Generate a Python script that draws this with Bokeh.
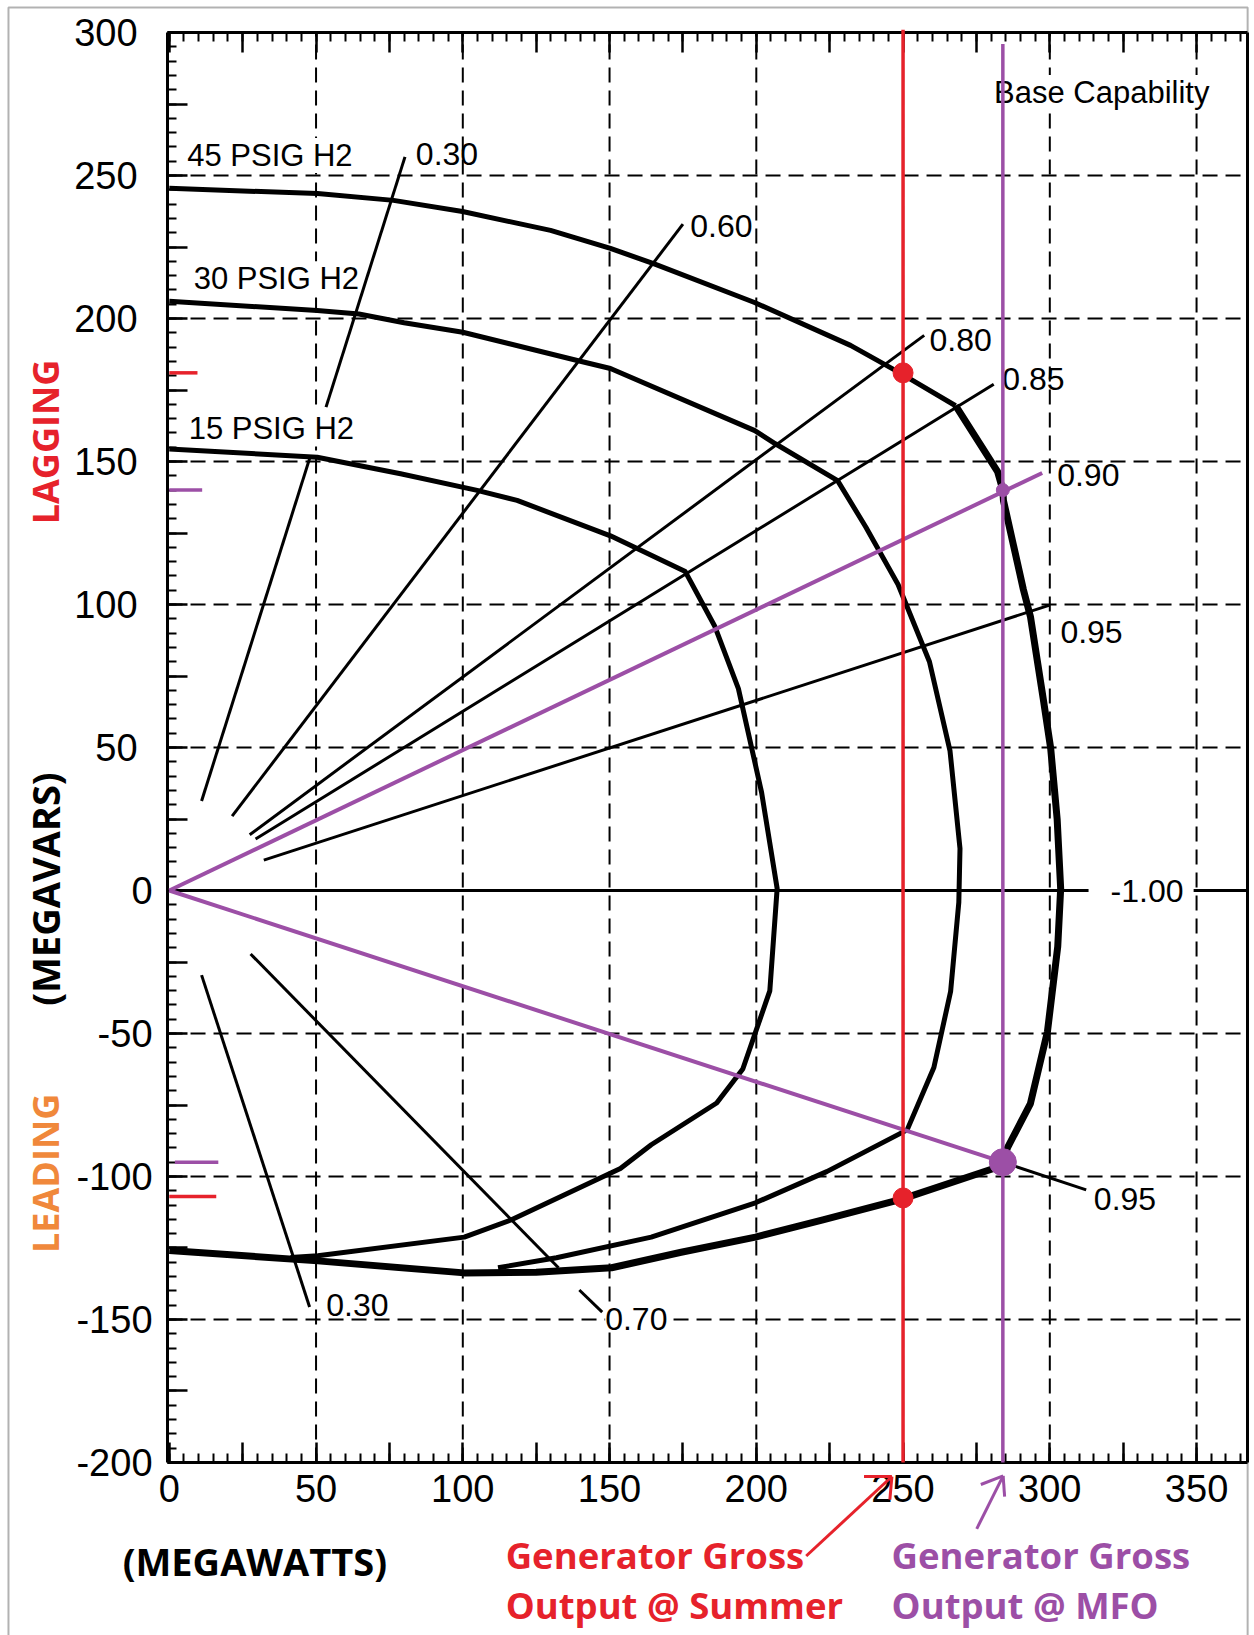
import math
from bokeh.plotting import figure
from bokeh.models import (Range1d, FixedTicker, LinearAxis, Label, LabelSet, Arrow,
                          ColumnDataSource, BoxAnnotation)
from bokeh.core.properties import value
from bokeh.embed import file_html
from bokeh.resources import INLINE

# ---------------- data (MW, MVAR) ----------------
cap45_top_mw   = [0, 50.5, 76.4, 99.9, 129.9, 150.3, 165.0, 199.4, 232.1, 249.2, 267.9]
cap45_top_mvar = [245.5, 243.7, 241.3, 237.4, 230.8, 224.5, 219.2, 205.6, 190.6, 180.8, 169.5]
cap45_side_mw   = [267.9, 282.2, 284.0, 284.2, 291.0, 293.4, 297.9, 300.3, 302.5, 303.7, 302.7, 299.2, 293.4, 285.6, 284.0]
cap45_side_mvar = [169.5, 146.5, 140.0, 136.4, 105.2, 95.8, 66.1, 49.7, 25.0, 0.7, -19.6, -49.3, -74.5, -89.9, -95.0]
base_bottom_mw   = [284.0, 280.6, 249.3, 222.7, 199.7, 174.4, 150.7, 125.0, 100.5, 50.6, 0]
base_bottom_mvar = [-95.0, -97.3, -108.0, -115.2, -121.2, -126.5, -131.9, -133.5, -133.7, -129.5, -125.9]

cap30_mw   = [0, 50.4, 64.6, 80.0, 100.0, 139.0, 150.3, 199.5, 206.5, 227.7, 237.3, 248.3, 259.0, 266.0,
              269.4, 269.0, 266.2, 260.5, 251.4, 224.0, 199.7, 164.2, 131.9, 112.0]
cap30_mvar = [206.0, 202.8, 201.6, 198.5, 195.2, 185.3, 182.5, 160.8, 156.2, 143.3, 127.1, 107.0, 80.0, 48.8,
              14.7, -4.1, -35.3, -61.9, -83.7, -98.3, -109.2, -121.2, -128.4, -131.9]

cap15_mw   = [0, 50.4, 78.8, 104.9, 118.5, 150.3, 175.8, 185.8, 193.9, 201.8, 207.1, 204.6, 195.4, 186.5,
              164.2, 153.7, 116.4, 100.5, 50.6, 41.3]
cap15_mvar = [154.4, 151.5, 145.7, 139.9, 136.4, 124.0, 111.5, 92.5, 70.6, 34.3, 0.7, -35.1, -62.4, -74.3,
              -88.9, -97.2, -115.2, -121.2, -127.7, -128.3]

# power-factor lines (segment ends)
pf_x0 = [11.0, 53.4, 21.4, 27.4, 29.4, 32.2, 11.0, 27.7, 139.7, 284.0, 0.0, 349.0]
pf_y0 = [31.3, 169.0, 26.0, 19.5, 18.0, 10.6, -29.6, -22.2, -139.7, -95.0, 0.0, 0.0]
pf_x1 = [47.8, 80.3, 175.0, 257.2, 280.9, 299.7, 47.8, 132.6, 147.5, 312.4, 313.2, 367.4]
pf_y1 = [151.0, 256.5, 233.0, 194.1, 177.0, 99.7, -145.6, -131.9, -147.4, -104.7, 0.0, 0.0]

# power-factor labels
pf_lbl_txt = ["0.30", "0.60", "0.80", "0.85", "0.90", "0.95", "-1.00", "0.95", "0.30"]
pf_lbl_x   = [84.0, 177.5, 259.0, 283.8, 302.5, 303.6, 320.7, 315.0, 53.5]
pf_lbl_y   = [257.6, 232.5, 192.5, 178.7, 145.4, 90.3, 0.0, -107.8, -145.0]

# labels that sit on a grid line (drawn on a white box)
box_lbl_txt = ["45 PSIG H2", "30 PSIG H2", "15 PSIG H2", "Base Capability", "0.70"]
box_lbl_x   = [6.1, 8.3, 6.6, 281.0, 148.5]
box_lbl_y   = [257.0, 213.9, 161.4, 279.0, -149.9]
box_lbl_sz  = ["31px", "31px", "31px", "31px", "32px"]

# operating points
summer_mw = 250.0
summer_mvar = [181.0, -107.5]
mfo_mw = 284.0
mfo_mvar = [140.0, -95.0]
mfo_pf_lag_end = [297.4, 146.0]

# coloured marks on the MVAR axis
red_tick_y = [181.0, -107.0]
red_tick_len = [9.6, 16.0]
pur_tick_y = [140.0, -95.0]
pur_tick_x0 = [0.0, 1.9]
pur_tick_len = [11.2, 16.7]

# arrows under the axis
red_arrow_x0 = [217.0, 246.2, 246.2]
red_arrow_y0 = [-232.7, -204.9, -204.9]
red_arrow_x1 = [246.2, 236.7, 245.5]
red_arrow_y1 = [-204.9, -204.9, -213.0]
pur_arrow_x0 = [275.1, 284.1, 284.1]
pur_arrow_y0 = [-223.2, -204.7, -204.7]
pur_arrow_x1 = [284.1, 276.5, 284.6]
pur_arrow_y1 = [-204.7, -207.7, -211.9]

# ticks and grid
x_lbl_ticks = list(range(0, 351, 50))
x_mid_ticks = list(range(25, 351, 50))
x_minor = list(range(0, 366, 5))
y_lbl_ticks_neg = list(range(-200, 1, 50))
y_lbl_ticks_pos = list(range(50, 301, 50))
y_mid_ticks = list(range(-175, 301, 50))
y_minor = list(range(-200, 301, 5))
x_grid = [50, 100, 150, 200, 250, 300, 350]
y_grid = [-150, -100, -50, 50, 100, 150, 200, 250]

# chart frame (MW / MVAR) and the visible page around it
XL, XR = -0.6, 367.4
YB, YT = -200, 300
VIEW_X = (-57.51, 369.74)
VIEW_Y = (-260.49, 311.19)
PAGE_BOX = dict(left=-54.79, right=367.4, top=308.74, bottom=-275)

RED = "#e6222b"
PUR = "#9c4fa6"
ORG = "#f0883b"
SANS = "Liberation Sans"
BOLD = "Open Sans"

p = figure(width=1254, height=1635, x_range=Range1d(*VIEW_X), y_range=Range1d(*VIEW_Y),
           output_backend="svg", toolbar_location=None,
           min_border=0, min_border_left=0, min_border_right=0, min_border_top=0, min_border_bottom=0,
           background_fill_color="white", border_fill_color="white")
p.outline_line_color = None
p.grid.visible = False


def set_axis(ax, loc, bounds, ticks, minor, tick_len, minor_len, labels=None, standoff=0, line=True):
    ax.fixed_location = loc
    ax.bounds = bounds
    ax.ticker = FixedTicker(ticks=ticks, minor_ticks=minor)
    ax.axis_line_width = 3
    ax.axis_line_color = "black" if line else None
    ax.major_tick_in = tick_len
    ax.major_tick_out = 0
    ax.minor_tick_in = minor_len
    ax.minor_tick_out = 0
    ax.major_tick_line_width = 2.5
    ax.minor_tick_line_width = 2
    ax.major_tick_line_color = "black"
    ax.minor_tick_line_color = "black"
    if labels:
        ax.major_label_overrides = labels
        ax.major_label_text_font = SANS
        ax.major_label_text_font_size = "38px"
        ax.major_label_text_color = "black"
        ax.major_label_standoff = standoff
    else:
        ax.major_label_text_color = None
        ax.major_label_standoff = 0


set_axis(p.xaxis[0], YB, (XL, XR), x_lbl_ticks, x_minor, 20, 9,
         labels={v: str(v) for v in x_lbl_ticks}, standoff=13)
set_axis(p.yaxis[0], XL, (YB, YT), y_lbl_ticks_neg, y_minor, 20, 9,
         labels={v: str(v) for v in y_lbl_ticks_neg}, standoff=15)

pos_axis = LinearAxis()
set_axis(pos_axis, XL, (YB, YT), y_lbl_ticks_pos, [], 20, 0,
         labels={v: str(v) for v in y_lbl_ticks_pos}, standoff=30, line=False)
p.add_layout(pos_axis, "left")

extra = [("above", YT, (XL, XR), x_lbl_ticks, x_minor, 20, 9, True),
         ("below", YB, (XL, XR), x_mid_ticks, [], 20, 0, False),
         ("above", YT, (XL, XR), x_mid_ticks, [], 20, 0, False),
         ("left", XL, (YB, YT), y_mid_ticks, [], 20, 0, False),
         ("right", XR, (YB, YT), [], [], 0, 0, True)]
for side, loc, bnd, tks, mnr, tl, ml, line in extra:
    ax = LinearAxis()
    set_axis(ax, loc, bnd, tks, mnr, tl, ml, labels=None, line=line)
    p.add_layout(ax, side)

# dashed grid inside the chart frame
p.segment(x_grid, [YB] * len(x_grid), x_grid, [YT] * len(x_grid),
          line_color="black", line_width=2, line_dash="15 8")
p.segment([XL] * len(y_grid), y_grid, [XR] * len(y_grid), y_grid,
          line_color="black", line_width=2, line_dash="15 8")

# capability curves
p.line(cap15_mw, cap15_mvar, line_color="black", line_width=5, line_join="round")
p.line(cap30_mw, cap30_mvar, line_color="black", line_width=5, line_join="round")
p.line(cap45_top_mw, cap45_top_mvar, line_color="black", line_width=5, line_join="round")
p.line(cap45_side_mw, cap45_side_mvar, line_color="black", line_width=7, line_join="round")
p.line(base_bottom_mw, base_bottom_mvar, line_color="black", line_width=7, line_join="round")

# power-factor lines
p.segment(pf_x0, pf_y0, pf_x1, pf_y1, line_color="black", line_width=3)

# labels in the chart
p.add_layout(LabelSet(x="x", y="y", text="t",
                      source=ColumnDataSource(dict(x=pf_lbl_x, y=pf_lbl_y, t=pf_lbl_txt)),
                      text_font=value(SANS), text_font_size=value("32px"), text_color="black",
                      text_align="left", text_baseline="middle"))
p.add_layout(LabelSet(x="x", y="y", text="t", text_font_size="s",
                      source=ColumnDataSource(dict(x=box_lbl_x, y=box_lbl_y, t=box_lbl_txt, s=box_lbl_sz)),
                      text_font=value(SANS), text_color="black",
                      text_align="left", text_baseline="middle",
                      background_fill_color="white"))

# coloured operating lines and points (on top of everything)
p.segment([0, 0], [0, 0], [mfo_pf_lag_end[0], mfo_mw], [mfo_pf_lag_end[1], mfo_mvar[1]],
          line_color=PUR, line_width=4, level="overlay")
p.segment([summer_mw], [YB], [summer_mw], [301], line_color=RED, line_width=3.5, level="overlay")
p.segment([mfo_mw], [YB], [mfo_mw], [296], line_color=PUR, line_width=3.5, level="overlay")
p.segment([0, 0], red_tick_y, red_tick_len, red_tick_y, line_color=RED, line_width=3.5, level="overlay")
p.segment(pur_tick_x0, pur_tick_y, pur_tick_len, pur_tick_y, line_color=PUR, line_width=3.5, level="overlay")
p.scatter([summer_mw, summer_mw], summer_mvar, size=20, color=RED, level="overlay")
p.scatter([mfo_mw], [mfo_mvar[0]], size=13, color=PUR, level="overlay")
p.scatter([mfo_mw], [mfo_mvar[1]], size=27, color=PUR, level="overlay")


# titles around the chart
def bold_label(x, y, txt, color, size, angle=0.0, align="left", baseline="alphabetic"):
    p.add_layout(Label(x=x, y=y, text=txt, angle=angle, text_align=align, text_baseline=baseline,
                       text_font=BOLD, text_font_style="bold", text_font_size=size,
                       text_color=color))


bold_label(-42.2, 0.5, "(MEGAVARS)", "black", "38px", math.pi / 2, "center", "middle")
bold_label(-42.2, 156.8, "LAGGING", RED, "36px", math.pi / 2, "center", "middle")
bold_label(-42.2, -98.9, "LEADING", ORG, "36px", math.pi / 2, "center", "middle")
bold_label(-15.9, -234.3, "(MEGAWATTS)", "black", "38px")
bold_label(114.6, -232.2, "Generator Gross", RED, "36.5px")
bold_label(114.6, -250.0, "Output @ Summer", RED, "36.5px")
bold_label(246.1, -232.2, "Generator Gross", PUR, "36.5px")
bold_label(246.1, -250.0, "Output @ MFO", PUR, "36.5px")

red_src = ColumnDataSource(dict(x0=red_arrow_x0, y0=red_arrow_y0, x1=red_arrow_x1, y1=red_arrow_y1))
pur_src = ColumnDataSource(dict(x0=pur_arrow_x0, y0=pur_arrow_y0, x1=pur_arrow_x1, y1=pur_arrow_y1))
p.add_layout(Arrow(x_start="x0", y_start="y0", x_end="x1", y_end="y1", source=red_src,
                   start=None, end=None, line_color=RED, line_width=3))
p.add_layout(Arrow(x_start="x0", y_start="y0", x_end="x1", y_end="y1", source=pur_src,
                   start=None, end=None, line_color=PUR, line_width=3))

# thin border of the page (left, top, right)
p.add_layout(BoxAnnotation(fill_color=None, line_color="black", line_width=2, **PAGE_BOX))

open("out.html", "w").write(file_html(p, INLINE))
